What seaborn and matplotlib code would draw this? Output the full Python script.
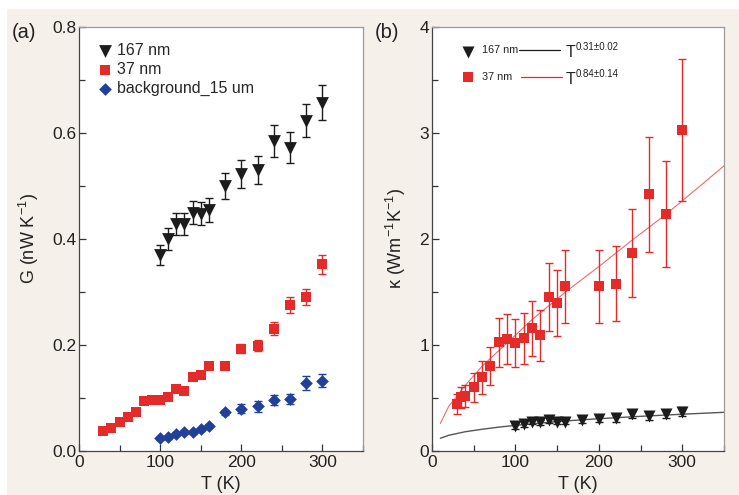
# IMPORT LIBRARIES
import matplotlib
matplotlib.use("Agg")
import matplotlib.pyplot as plt
from matplotlib.patches import Rectangle
from matplotlib.ticker import MultipleLocator, FormatStrFormatter
import seaborn as sns


# DATA

# (a) conductance G (nW/K)
T_a_167 = [100, 110, 120, 130, 140, 150, 160, 180, 200, 220, 240, 260, 280, 300]
G_167 = [0.370, 0.400, 0.428, 0.428, 0.450, 0.448, 0.455, 0.500, 0.523, 0.530, 0.585, 0.572, 0.623, 0.657]
G_167_err = [0.019, 0.020, 0.021, 0.021, 0.022, 0.022, 0.023, 0.025, 0.026, 0.027, 0.030, 0.029, 0.031, 0.033]

T_a_37 = [30, 40, 50, 60, 70, 80, 90, 100, 110, 120, 130, 140, 150, 160, 180, 200, 220, 240, 260, 280, 300]
G_37 = [0.038, 0.044, 0.054, 0.064, 0.074, 0.094, 0.097, 0.097, 0.102, 0.117, 0.114, 0.140, 0.143, 0.161,
        0.160, 0.193, 0.199, 0.231, 0.275, 0.290, 0.352]
G_37_err = [0.003, 0.003, 0.003, 0.003, 0.003, 0.003, 0.003, 0.003, 0.003, 0.003, 0.003, 0.003, 0.003, 0.003,
            0.004, 0.009, 0.011, 0.013, 0.015, 0.015, 0.018]

T_bg = [100, 110, 120, 130, 140, 150, 160, 180, 200, 220, 240, 260, 280, 300]
G_bg = [0.024, 0.026, 0.033, 0.035, 0.035, 0.041, 0.048, 0.073, 0.080, 0.084, 0.096, 0.098, 0.128, 0.133]
G_bg_err = [0.003, 0.003, 0.003, 0.003, 0.003, 0.003, 0.003, 0.005, 0.009, 0.010, 0.009, 0.010, 0.013, 0.013]

# (b) thermal conductivity kappa (W/m/K)
T_b_167 = [100, 110, 120, 130, 140, 150, 160, 180, 200, 220, 240, 260, 280, 300]
k_167 = [0.236, 0.255, 0.277, 0.270, 0.292, 0.277, 0.277, 0.296, 0.300, 0.308, 0.346, 0.330, 0.349, 0.371]
k_167_err = [0.025, 0.025, 0.025, 0.025, 0.030, 0.025, 0.025, 0.030, 0.030, 0.030, 0.035, 0.035, 0.035, 0.040]

T_b_37 = [30, 35, 40, 50, 60, 70, 80, 90, 100, 110, 120, 130, 140, 150, 160, 200, 220, 240, 260, 280, 300]
k_37 = [0.443, 0.506, 0.519, 0.600, 0.695, 0.805, 1.025, 1.053, 1.016, 1.063, 1.157, 1.090, 1.450, 1.393,
        1.553, 1.553, 1.580, 1.865, 2.420, 2.240, 3.025]
k_37_err = [0.098, 0.100, 0.105, 0.137, 0.154, 0.180, 0.228, 0.236, 0.226, 0.240, 0.258, 0.244, 0.320, 0.310,
            0.344, 0.347, 0.352, 0.414, 0.538, 0.500, 0.670]

# power-law fit curves
fit_T_37 = [10, 20, 40, 60, 90, 120, 160, 200, 240, 280, 300, 350]
fit_k_37 = [0.26, 0.42, 0.62, 0.80, 1.02, 1.24, 1.50, 1.74, 1.99, 2.23, 2.36, 2.69]
fit_T_167 = [10, 20, 40, 60, 80, 100, 150, 200, 250, 300, 350]
fit_k_167 = [0.120, 0.148, 0.182, 0.205, 0.225, 0.242, 0.278, 0.305, 0.327, 0.347, 0.365]

BLACK = "#1c1c1c"
RED = "#e52a2a"
BLUE = "#21409a"
BEIGE = "#f6f0ea"


# STYLE
sns.set_theme(style="ticks")
plt.rcParams["font.family"] = ["Liberation Sans", "DejaVu Sans"]
plt.rcParams["mathtext.fontset"] = "custom"
plt.rcParams["mathtext.rm"] = "Liberation Sans"
plt.rcParams["mathtext.it"] = "Liberation Sans:italic"
plt.rcParams["mathtext.default"] = "regular"

fig = plt.figure(figsize=(7.39, 4.95), dpi=100)
fig.patch.set_facecolor("white")
fig.patches.append(Rectangle((7 / 739, 0), 1, 1 - 9 / 495, transform=fig.transFigure,
                             facecolor=BEIGE, edgecolor="none", zorder=-10))

ax_a = fig.add_axes([79 / 739, 1 - 451 / 495, 284 / 739, 424 / 495])
ax_b = fig.add_axes([432 / 739, 1 - 451 / 495, 292 / 739, 424 / 495])


def style_axis(ax):
    ax.set_facecolor("white")
    for side in ["left", "bottom"]:
        ax.spines[side].set_color("#444444")
        ax.spines[side].set_linewidth(0.9)
    for side in ["top", "right"]:
        ax.spines[side].set_color("#9a9a9a")
        ax.spines[side].set_linewidth(0.9)
    ax.tick_params(which="both", direction="in", color="#333333", width=0.9,
                   labelsize=12.5, labelcolor="#222222", top=False, right=False)
    ax.tick_params(which="major", length=5)
    ax.tick_params(which="minor", length=4)
    ax.tick_params(axis="y", pad=2)
    ax.tick_params(axis="x", pad=3)
    ax.set_xlim(0, 350)
    ax.xaxis.set_major_locator(MultipleLocator(100))
    ax.xaxis.set_minor_locator(MultipleLocator(50))
    ax.set_xlabel("T (K)", fontsize=13, color="#222222", labelpad=4)


# (a) G vs T
style_axis(ax_a)
ax_a.errorbar(T_a_167, G_167, yerr=G_167_err, fmt="none", ecolor=BLACK, elinewidth=1, capsize=3.2, zorder=2)
ax_a.errorbar(T_a_37, G_37, yerr=G_37_err, fmt="none", ecolor=RED, elinewidth=1, capsize=3.2, zorder=2)
ax_a.errorbar(T_bg, G_bg, yerr=G_bg_err, fmt="none", ecolor=BLUE, elinewidth=1, capsize=3.2, zorder=2)
sns.scatterplot(x=T_a_167, y=G_167, ax=ax_a, marker="v", s=85, color=BLACK, linewidth=0, label="167 nm", zorder=3)
sns.scatterplot(x=T_a_37, y=G_37, ax=ax_a, marker="s", s=50, color=RED, linewidth=0, label="37 nm", zorder=3)
sns.scatterplot(x=T_bg, y=G_bg, ax=ax_a, marker="D", s=42, color=BLUE, linewidth=0, label="background_15 um", zorder=3)
ax_a.set_ylim(0, 0.8)
ax_a.yaxis.set_major_locator(MultipleLocator(0.2))
ax_a.yaxis.set_minor_locator(MultipleLocator(0.1))
ax_a.yaxis.set_major_formatter(FormatStrFormatter("%.1f"))
ax_a.set_ylabel("G (nW K$^{-1}$)", fontsize=13, color="#222222", labelpad=8)
ax_a.legend(loc="upper left", frameon=False, fontsize=11.5, handletextpad=0.2, labelspacing=0.25,
            borderaxespad=0.6, handlelength=1.2)

# (b) kappa vs T
style_axis(ax_b)
ax_b.errorbar(T_b_37, k_37, yerr=k_37_err, fmt="none", ecolor=RED, elinewidth=1, capsize=3.2, zorder=2)
ax_b.errorbar(T_b_167, k_167, yerr=k_167_err, fmt="none", ecolor=BLACK, elinewidth=1, capsize=3.2, zorder=2)
sns.lineplot(x=fit_T_37, y=fit_k_37, ax=ax_b, color="#f06a6a", linewidth=0.8, estimator=None, zorder=1)
sns.lineplot(x=fit_T_167, y=fit_k_167, ax=ax_b, color="#555555", linewidth=1.0, estimator=None, zorder=1)
sns.scatterplot(x=T_b_37, y=k_37, ax=ax_b, marker="s", s=56, color=RED, linewidth=0, zorder=3)
sns.scatterplot(x=T_b_167, y=k_167, ax=ax_b, marker="v", s=75, color=BLACK, linewidth=0, zorder=3)
ax_b.set_ylim(0, 4)
ax_b.yaxis.set_major_locator(MultipleLocator(1))
ax_b.yaxis.set_minor_locator(MultipleLocator(0.5))
ax_b.set_ylabel("κ (Wm$^{-1}$K$^{-1}$)", fontsize=13, color="#222222", labelpad=8)

# hand-made legend of panel (b)
tb = ax_b.transAxes
ax_b.scatter([0.122], [0.942], transform=tb, marker="v", s=75, color=BLACK, linewidth=0, clip_on=False)
ax_b.text(0.172, 0.946, "167 nm", transform=tb, fontsize=7.8, va="center", color="#222222")
ax_b.plot([0.299, 0.440], [0.946, 0.946], transform=tb, color=BLACK, lw=0.9)
ax_b.text(0.457, 0.941, "T", transform=tb, fontsize=11.5, va="center", color="#222222")
ax_b.text(0.493, 0.953, "0.31±0.02", transform=tb, fontsize=7, va="center", color="#222222")
ax_b.scatter([0.124], [0.881], transform=tb, marker="s", s=56, color=RED, linewidth=0, clip_on=False)
ax_b.text(0.172, 0.881, "37 nm", transform=tb, fontsize=7.8, va="center", color="#222222")
ax_b.plot([0.305, 0.444], [0.881, 0.881], transform=tb, color=RED, lw=0.9)
ax_b.text(0.457, 0.876, "T", transform=tb, fontsize=11.5, va="center", color="#222222")
ax_b.text(0.493, 0.888, "0.84±0.14", transform=tb, fontsize=7, va="center", color="#222222")

# panel letters
fig.text(12 / 739, 1 - 32 / 495, "(a)", fontsize=14.5, va="center", color="#222222")
fig.text(375 / 739, 1 - 32 / 495, "(b)", fontsize=14.5, va="center", color="#222222")

fig.savefig("out.png", dpi=100)
